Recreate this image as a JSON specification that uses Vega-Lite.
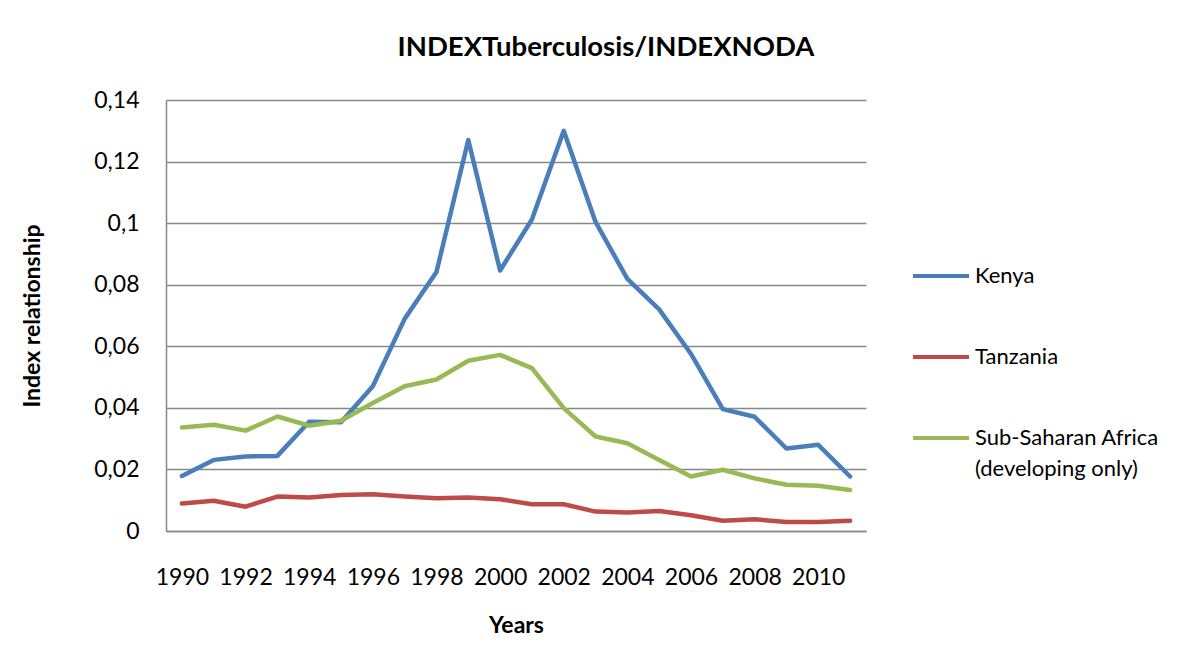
{
  "$schema": "https://vega.github.io/schema/vega-lite/v6.json",
  "width": 700,
  "height": 431,
  "autosize": {"type": "none"},
  "padding": {"left": 166, "top": 100, "right": 336, "bottom": 139},
  "background": "white",
  "title": {
    "text": "INDEXTuberculosis/INDEXNODA",
    "font": "Lato",
    "fontSize": 27.5,
    "fontWeight": "bold",
    "color": "#000000",
    "anchor": "middle",
    "dx": 90,
    "offset": 28
  },
  "data": {
    "values": [
      {"year": "1990", "series": "Kenya", "value": 0.0179},
      {"year": "1991", "series": "Kenya", "value": 0.0231},
      {"year": "1992", "series": "Kenya", "value": 0.0242},
      {"year": "1993", "series": "Kenya", "value": 0.0244},
      {"year": "1994", "series": "Kenya", "value": 0.0355},
      {"year": "1995", "series": "Kenya", "value": 0.0353},
      {"year": "1996", "series": "Kenya", "value": 0.047},
      {"year": "1997", "series": "Kenya", "value": 0.0689},
      {"year": "1998", "series": "Kenya", "value": 0.0841},
      {"year": "1999", "series": "Kenya", "value": 0.127},
      {"year": "2000", "series": "Kenya", "value": 0.0846},
      {"year": "2001", "series": "Kenya", "value": 0.1012},
      {"year": "2002", "series": "Kenya", "value": 0.130},
      {"year": "2003", "series": "Kenya", "value": 0.1004},
      {"year": "2004", "series": "Kenya", "value": 0.0819},
      {"year": "2005", "series": "Kenya", "value": 0.072},
      {"year": "2006", "series": "Kenya", "value": 0.0575},
      {"year": "2007", "series": "Kenya", "value": 0.0396},
      {"year": "2008", "series": "Kenya", "value": 0.0371},
      {"year": "2009", "series": "Kenya", "value": 0.0268},
      {"year": "2010", "series": "Kenya", "value": 0.028},
      {"year": "2011", "series": "Kenya", "value": 0.0177},
      {"year": "1990", "series": "Tanzania", "value": 0.0089},
      {"year": "1991", "series": "Tanzania", "value": 0.0098},
      {"year": "1992", "series": "Tanzania", "value": 0.0079},
      {"year": "1993", "series": "Tanzania", "value": 0.0112},
      {"year": "1994", "series": "Tanzania", "value": 0.0109},
      {"year": "1995", "series": "Tanzania", "value": 0.0117},
      {"year": "1996", "series": "Tanzania", "value": 0.0119},
      {"year": "1997", "series": "Tanzania", "value": 0.0112},
      {"year": "1998", "series": "Tanzania", "value": 0.0106},
      {"year": "1999", "series": "Tanzania", "value": 0.0109},
      {"year": "2000", "series": "Tanzania", "value": 0.0103},
      {"year": "2001", "series": "Tanzania", "value": 0.0087},
      {"year": "2002", "series": "Tanzania", "value": 0.0087},
      {"year": "2003", "series": "Tanzania", "value": 0.0063},
      {"year": "2004", "series": "Tanzania", "value": 0.006},
      {"year": "2005", "series": "Tanzania", "value": 0.0065},
      {"year": "2006", "series": "Tanzania", "value": 0.0051},
      {"year": "2007", "series": "Tanzania", "value": 0.0033},
      {"year": "2008", "series": "Tanzania", "value": 0.0038},
      {"year": "2009", "series": "Tanzania", "value": 0.0029},
      {"year": "2010", "series": "Tanzania", "value": 0.0029},
      {"year": "2011", "series": "Tanzania", "value": 0.0033},
      {"year": "1990", "series": "Sub-Saharan Africa (developing only)", "value": 0.0336},
      {"year": "1991", "series": "Sub-Saharan Africa (developing only)", "value": 0.0345},
      {"year": "1992", "series": "Sub-Saharan Africa (developing only)", "value": 0.0326},
      {"year": "1993", "series": "Sub-Saharan Africa (developing only)", "value": 0.0372},
      {"year": "1994", "series": "Sub-Saharan Africa (developing only)", "value": 0.0342},
      {"year": "1995", "series": "Sub-Saharan Africa (developing only)", "value": 0.0358},
      {"year": "1996", "series": "Sub-Saharan Africa (developing only)", "value": 0.0416},
      {"year": "1997", "series": "Sub-Saharan Africa (developing only)", "value": 0.047},
      {"year": "1998", "series": "Sub-Saharan Africa (developing only)", "value": 0.0492},
      {"year": "1999", "series": "Sub-Saharan Africa (developing only)", "value": 0.0553},
      {"year": "2000", "series": "Sub-Saharan Africa (developing only)", "value": 0.0572},
      {"year": "2001", "series": "Sub-Saharan Africa (developing only)", "value": 0.0529},
      {"year": "2002", "series": "Sub-Saharan Africa (developing only)", "value": 0.0399},
      {"year": "2003", "series": "Sub-Saharan Africa (developing only)", "value": 0.0307},
      {"year": "2004", "series": "Sub-Saharan Africa (developing only)", "value": 0.0285},
      {"year": "2005", "series": "Sub-Saharan Africa (developing only)", "value": 0.0231},
      {"year": "2006", "series": "Sub-Saharan Africa (developing only)", "value": 0.0177},
      {"year": "2007", "series": "Sub-Saharan Africa (developing only)", "value": 0.0199},
      {"year": "2008", "series": "Sub-Saharan Africa (developing only)", "value": 0.0171},
      {"year": "2009", "series": "Sub-Saharan Africa (developing only)", "value": 0.015},
      {"year": "2010", "series": "Sub-Saharan Africa (developing only)", "value": 0.0147},
      {"year": "2011", "series": "Sub-Saharan Africa (developing only)", "value": 0.0133}
    ]
  },
  "mark": {"type": "line", "strokeWidth": 4.5, "strokeJoin": "round", "strokeCap": "round"},
  "encoding": {
    "x": {
      "field": "year",
      "type": "ordinal",
      "scale": {"type": "point", "padding": 0.5},
      "axis": {
        "title": "Years",
        "titleFont": "Lato",
        "titleFontSize": 23,
        "titleFontWeight": "bold",
        "titleColor": "#000000",
        "titlePadding": 25,
        "labelFont": "Lato",
        "labelFontSize": 23,
        "labelColor": "#000000",
        "labelAngle": 0,
        "labelPadding": 35,
        "labelOverlap": false,
        "labelExpr": "toNumber(datum.value) % 2 == 0 ? datum.value : ''",
        "ticks": false,
        "domainColor": "#888888",
        "domainWidth": 1.5,
        "grid": false
      }
    },
    "y": {
      "field": "value",
      "type": "quantitative",
      "scale": {"domain": [0, 0.14], "nice": false},
      "axis": {
        "title": "Index relationship",
        "titleFont": "Lato",
        "titleFontSize": 23,
        "titleFontWeight": "bold",
        "titleColor": "#000000",
        "titlePadding": 49,
        "labelFont": "Lato",
        "labelFontSize": 23,
        "labelColor": "#000000",
        "labelPadding": 27,
        "values": [0, 0.02, 0.04, 0.06, 0.08, 0.1, 0.12, 0.14],
        "labelExpr": "replace(format(datum.value, '.2~f'), '.', ',')",
        "ticks": false,
        "domainColor": "#888888",
        "domainWidth": 1.5,
        "grid": true,
        "gridColor": "#888888",
        "gridWidth": 1.5
      }
    },
    "color": {
      "field": "series",
      "type": "nominal",
      "sort": ["Kenya", "Tanzania", "Sub-Saharan Africa (developing only)"],
      "scale": {
        "domain": ["Kenya", "Tanzania", "Sub-Saharan Africa (developing only)"],
        "range": ["#4a7ebb", "#be4b48", "#98b954"]
      },
      "legend": {
        "title": null,
        "orient": "none",
        "legendX": 745,
        "legendY": 146,
        "symbolType": "stroke",
        "symbolSize": 3136,
        "symbolStrokeWidth": 4,
        "labelFont": "Lato",
        "labelFontSize": 22,
        "labelColor": "#000000",
        "labelOffset": 4,
        "labelLimit": 300,
        "rowPadding": 40,
        "labelExpr": "datum.label == 'Sub-Saharan Africa (developing only)' ? ['Sub-Saharan Africa', '(developing only)'] : datum.label"
      }
    }
  },
  "config": {
    "view": {"stroke": null},
    "style": {"guide-label": {"lineHeight": 31}}
  }
}
